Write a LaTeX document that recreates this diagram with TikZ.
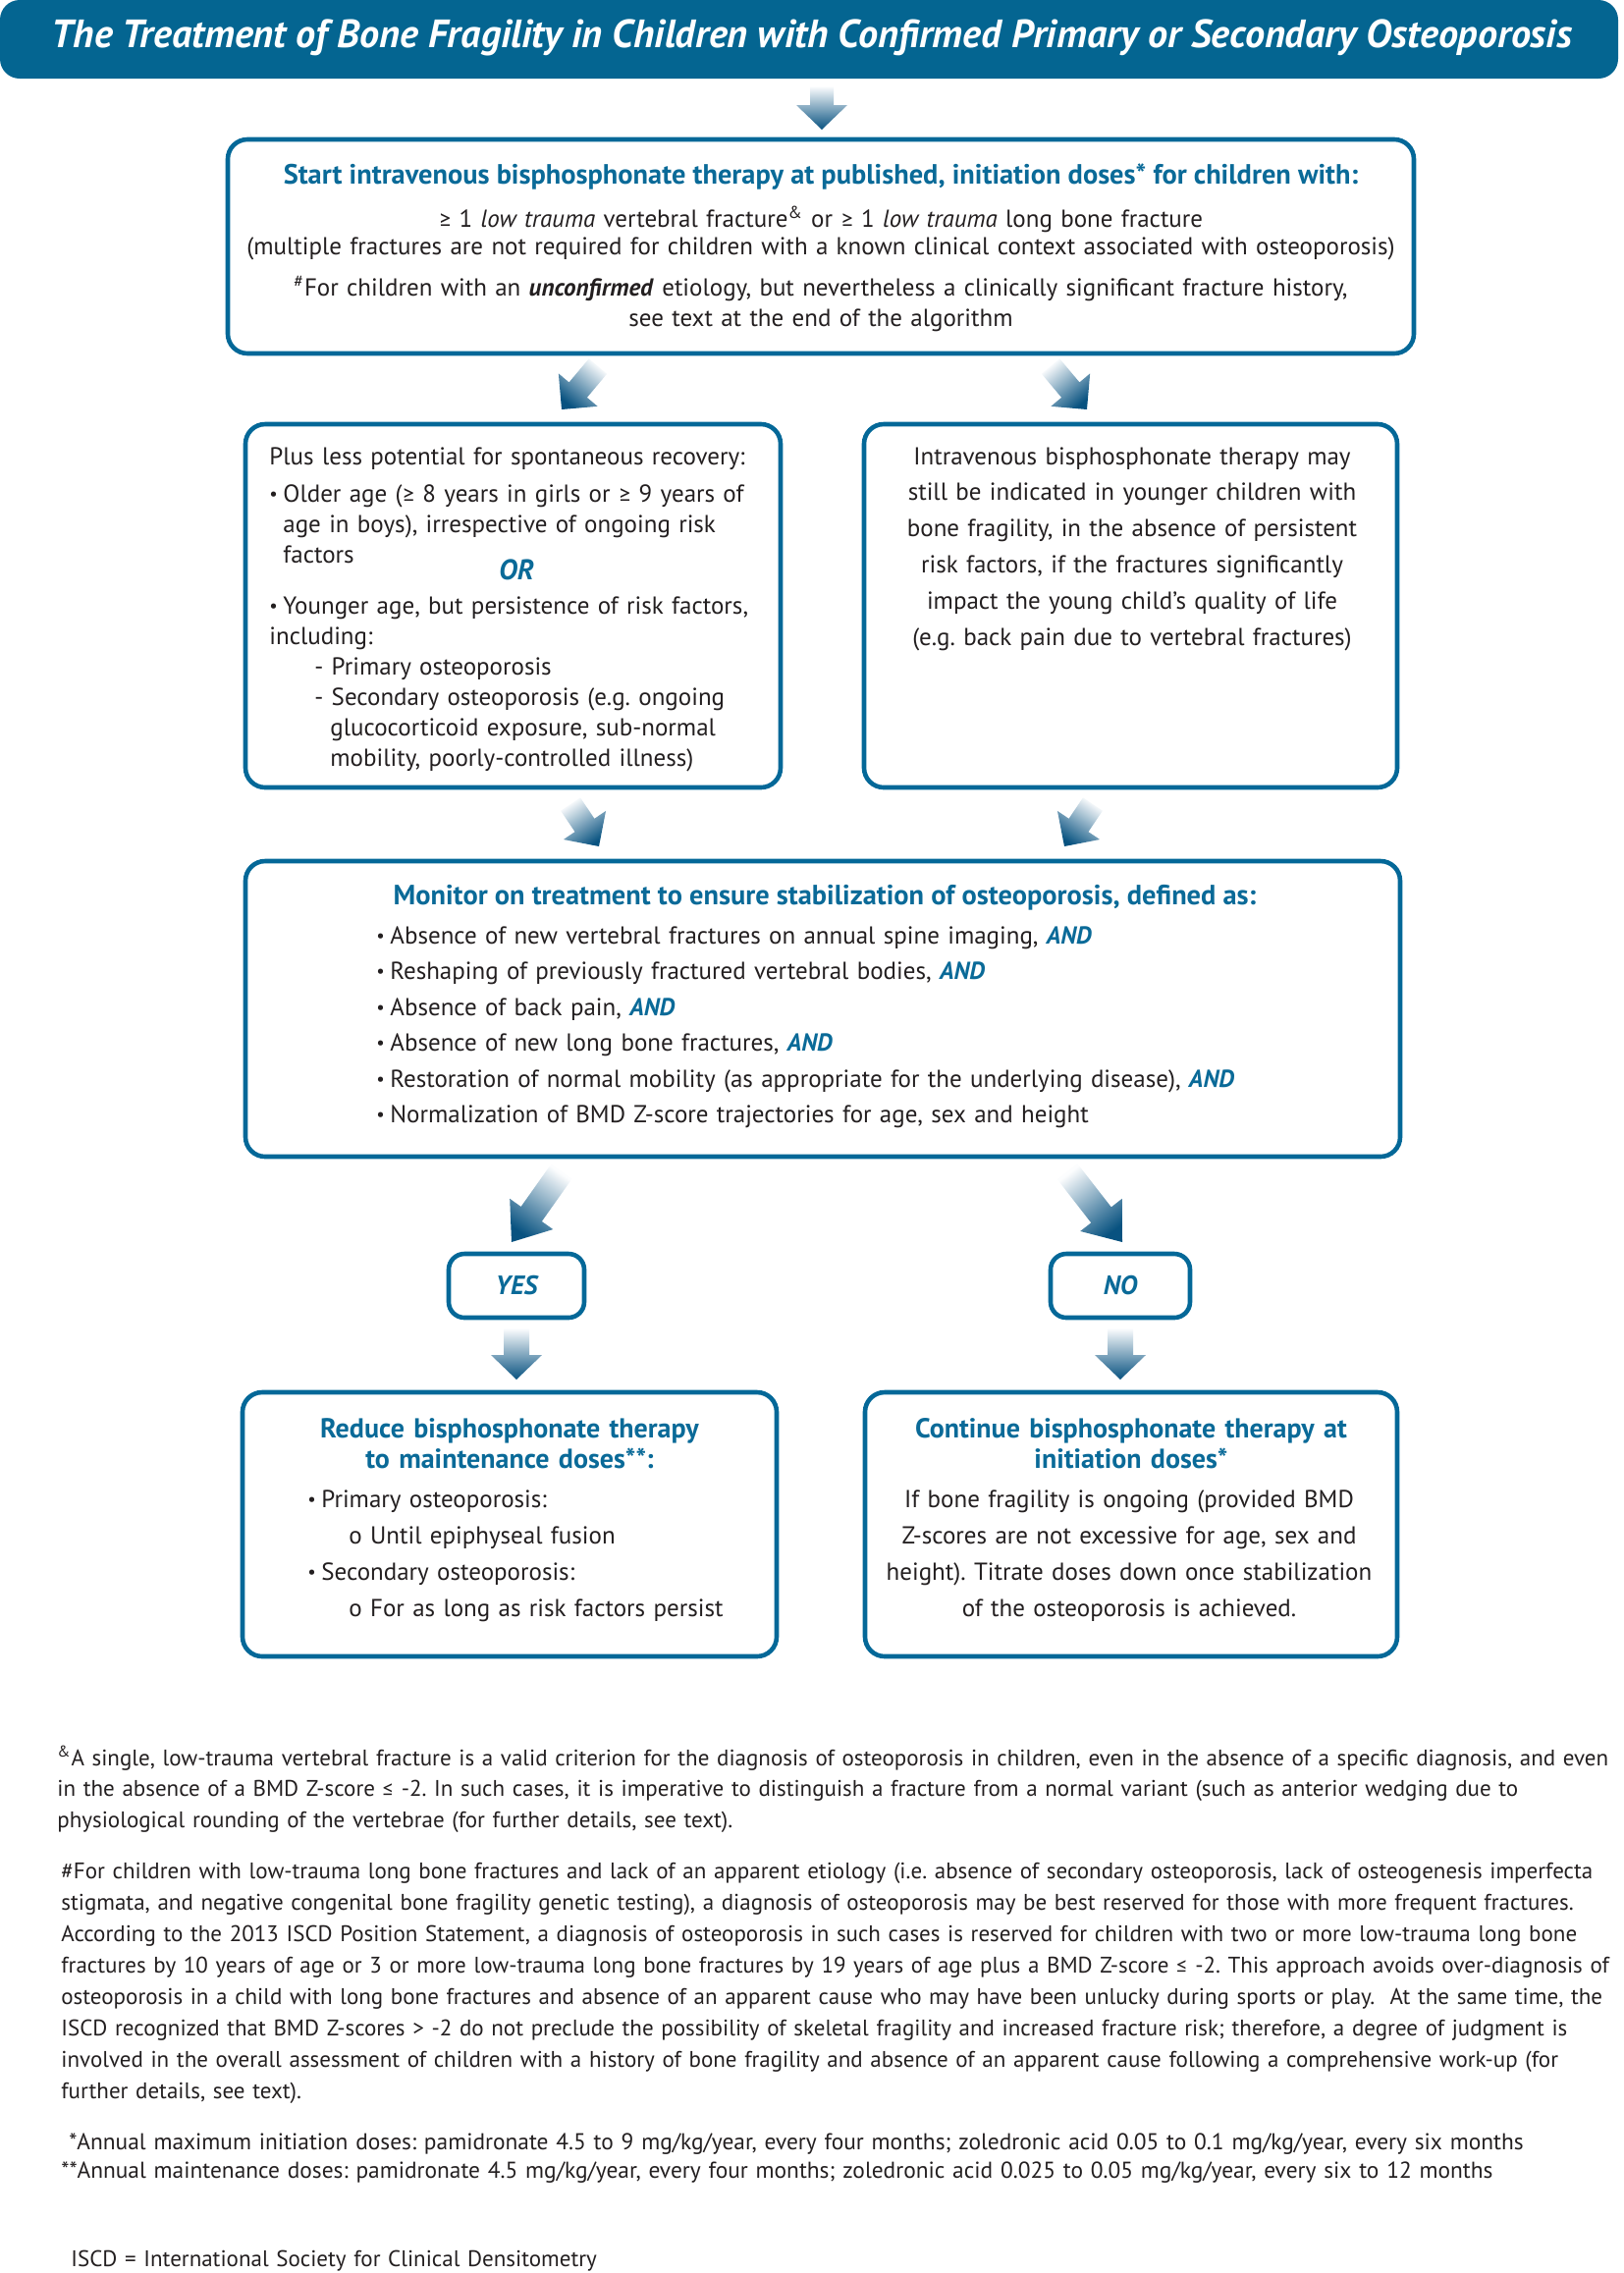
\documentclass[tikz,border=0pt]{standalone}
\usepackage{fontspec}
\usepackage{graphicx}
\setmainfont{PT Sans}
\newfontfamily\symf{Carlito}
\usetikzlibrary{calc}
\frenchspacing
\definecolor{barblue}{RGB}{4,101,145}
\definecolor{boxblue}{RGB}{4,104,152}
\definecolor{headblue}{RGB}{10,106,152}
\definecolor{arrdark}{RGB}{8,82,128}
\definecolor{arrlight}{RGB}{252,253,254}
\definecolor{txt}{RGB}{35,31,32}
\newcommand\GE{{\symf ≥}}
\newcommand\LE{{\symf ≤}}
\newcommand\AND{\textbf{\textit{\color{headblue}AND}}}
\newcommand\smbul{\raisebox{0.9pt}{\scalebox{0.75}{•}}}
\newcommand\bul{\makebox[7pt][l]{\smbul}}
\newcommand\fatarrow[6]{%
  \coordinate (hb) at ($(#2)!#5!(#1)$);
  \shade[top color=arrlight, bottom color=arrdark, shading angle=#6]
    ($(#1)!#3!90:(#2)$) -- ($(hb)!#3!90:(#2)$) -- ($(hb)!#4!90:(#2)$) -- (#2)
    -- ($(hb)!#4!-90:(#2)$) -- ($(hb)!#3!-90:(#2)$) -- ($(#1)!#3!-90:(#2)$) -- cycle;
}
\tikzset{
  pbox/.style={draw=boxblue, line width=2.3pt, rounded corners=10pt, fill=white, inner sep=0pt},
  ynbox/.style={draw=boxblue, line width=2.3pt, rounded corners=8pt, fill=white, inner sep=0pt,
    minimum height=32.5pt, font=\fontsize{13.5}{15}\selectfont\bfseries\itshape, text=headblue},
  tx/.style={inner sep=0pt, text=txt, font=\fontsize{12.5}{#1}\selectfont},
  tx/.default=15.5pt,
  hd/.style={inner sep=0pt, text=headblue, font=\fontsize{14}{#1}\selectfont\bfseries},
  hd/.default=16pt,
  fn/.style={inner sep=0pt, text=txt, font=\fontsize{11.5}{#1}\selectfont, text width=1000pt, align=left, anchor=base west},
  fn/.default=16pt
}
\begin{document}
\begin{tikzpicture}[x=0.5pt,y=-0.5pt]
\useasboundingbox (0,0) rectangle (1654,2315);
% title bar
\node[fill=barblue, rounded corners=10pt, minimum width=824pt, minimum height=40pt, inner sep=0pt] (bar) at (824,40) {};
\node[anchor=base, inner sep=0pt, text=white, font=\fontsize{20.1}{21}\selectfont\bfseries\itshape] (title) at (827,48) {The Treatment of Bone Fragility in Children with Confirmed Primary or Secondary Osteoporosis};
% boxes
\node[pbox, minimum width=604pt, minimum height=109pt] (b1) at (836,251) {};
\node[pbox, minimum width=272.5pt, minimum height=185pt] (b2l) at (522.5,617) {};
\node[pbox, minimum width=271.5pt, minimum height=185pt] (b2r) at (1151.5,617) {};
\node[pbox, minimum width=588pt, minimum height=150.5pt] (b3) at (838,1027.5) {};
\node[ynbox, minimum width=69pt] (yes) at (526,1309.5) {YES};
\node[ynbox, minimum width=71pt] (no) at (1141,1309.5) {NO};
\node[pbox, minimum width=272pt, minimum height=134.5pt] (b4l) at (519,1552.5) {};
\node[pbox, minimum width=271pt, minimum height=134.5pt] (b4r) at (1152,1552.5) {};
% box 1 text
\node[hd, anchor=base, font=\fontsize{14.2}{16}\selectfont\bfseries] (b1h) at (836,187) {Start intravenous bisphosphonate therapy at published, initiation doses* for children with:};
\node[tx=14pt, anchor=base, text width=760pt, align=center] (b1a) at (836,231) {\GE{} 1 \textit{low trauma} vertebral fracture\textsuperscript{\&} or \GE{} 1 \textit{low trauma} long bone fracture\\(multiple fractures are not required for children with a known clinical context associated with osteoporosis)};
\node[tx=15.5pt, anchor=base, text width=760pt, align=center] (b1b) at (836,301) {\textsuperscript{\#}For children with an \textbf{\textit{unconfirmed}} etiology, but nevertheless a clinically significant fracture history,\\see text at the end of the algorithm};
% box 2 left
\node[tx=15.5pt, anchor=base west, text width=320pt, align=left] (b2a) at (274,473) {Plus less potential for spontaneous recovery:\\[3.5pt]\bul Older age (\GE{} 8 years in girls or \GE{} 9 years of\\\hspace*{7pt}age in boys), irrespective of ongoing risk\\\hspace*{7pt}factors};
\node[anchor=base, inner sep=0pt, text=headblue, font=\fontsize{14.5}{15}\selectfont\bfseries\itshape] (or) at (526,590) {OR};
\node[tx=15.5pt, anchor=base west, text width=320pt, align=left] (b2c) at (274,625) {\bul Younger age, but persistence of risk factors,\\including:\\\hspace*{23pt}- Primary osteoporosis\\\hspace*{23pt}- Secondary osteoporosis (e.g. ongoing\\\hspace*{31pt}glucocorticoid exposure, sub-normal\\\hspace*{31pt}mobility, poorly-controlled illness)};
% box 2 right
\node[tx=18.4pt, anchor=base, text width=340pt, align=center] (b2rt) at (1153,473) {Intravenous bisphosphonate therapy may\\still be indicated in younger children with\\bone fragility, in the absence of persistent\\risk factors, if the fractures significantly\\impact the young child’s quality of life\\(e.g. back pain due to vertebral fractures)};
% box 3
\node[hd, anchor=base, font=\fontsize{14.2}{16}\selectfont\bfseries] (b3h) at (840,921) {Monitor on treatment to ensure stabilization of osteoporosis, defined as:};
\node[tx=18.25pt, anchor=base west, text width=600pt, align=left] (b3l) at (383,961) {\bul Absence of new vertebral fractures on annual spine imaging, \AND\\\bul Reshaping of previously fractured vertebral bodies, \AND\\\bul Absence of back pain, \AND\\\bul Absence of new long bone fractures, \AND\\\bul Restoration of normal mobility (as appropriate for the underlying disease), \AND\\\bul Normalization of BMD Z-score trajectories for age, sex and height};
% box 4 left
\node[hd=15.5pt, anchor=base, text width=340pt, align=center] (b4lh) at (519,1464) {Reduce bisphosphonate therapy\\to maintenance doses**:};
\node[tx=18.5pt, anchor=base west, text width=340pt, align=left] (b4ll) at (313,1535) {\bul Primary osteoporosis:\\\hspace*{21pt}o Until epiphyseal fusion\\\bul Secondary osteoporosis:\\\hspace*{21pt}o For as long as risk factors persist};
% box 4 right
\node[hd=15.5pt, anchor=base, text width=340pt, align=center] (b4rh) at (1152,1464) {Continue bisphosphonate therapy at\\initiation doses*};
\node[tx=18.5pt, anchor=base, text width=340pt, align=center] (b4rt) at (1150,1535) {If bone fragility is ongoing (provided BMD\\Z-scores are not excessive for age, sex and\\height). Titrate doses down once stabilization\\of the osteoporosis is achieved.};
% arrows
\coordinate (a0t) at (837,88);   \coordinate (a0h) at (837,132);
\coordinate (a1lt) at (609,373); \coordinate (a1lh) at (572,417);
\coordinate (a1rt) at (1070,373);\coordinate (a1rh) at (1107,417);
\coordinate (a2lt) at (581,819); \coordinate (a2lh) at (610,862);
\coordinate (a2rt) at (1113,819);\coordinate (a2rh) at (1084,862);
\coordinate (a3lt) at (572,1193);\coordinate (a3lh) at (521,1265);
\coordinate (a3rt) at (1087,1193);\coordinate (a3rh) at (1143,1265);
\coordinate (a4lt) at (526,1353);\coordinate (a4lh) at (526,1405);
\coordinate (a4rt) at (1141,1353);\coordinate (a4rh) at (1141,1405);
\fatarrow{a0t}{a0h}{6pt}{13pt}{12.5pt}{0}
\fatarrow{a1lt}{a1lh}{6pt}{13pt}{13pt}{-40}
\fatarrow{a1rt}{a1rh}{6pt}{13pt}{13pt}{40}
\fatarrow{a2lt}{a2lh}{6pt}{13pt}{13pt}{34}
\fatarrow{a2rt}{a2rh}{6pt}{13pt}{13pt}{-34}
\fatarrow{a3lt}{a3lh}{6.5pt}{13.5pt}{17.5pt}{-35}
\fatarrow{a3rt}{a3rh}{6.5pt}{13.5pt}{17.5pt}{38}
\fatarrow{a4lt}{a4lh}{6.5pt}{13pt}{12.5pt}{0}
\fatarrow{a4rt}{a4rh}{6.5pt}{13pt}{12.5pt}{0}
% footnotes
\node[fn=15.75pt] (fn1) at (58,1798) {\textsuperscript{\&}A single, low-trauma vertebral fracture is a valid criterion for the diagnosis of osteoporosis in children, even in the absence of a specific diagnosis, and even\\in the absence of a BMD Z-score \LE{} -2. In such cases, it is imperative to distinguish a fracture from a normal variant (such as anterior wedging due to\\physiological rounding of the vertebrae (for further details, see text).};
\node[fn=16pt] (fn2) at (62,1913) {\#For children with low-trauma long bone fractures and lack of an apparent etiology (i.e. absence of secondary osteoporosis, lack of osteogenesis imperfecta\\stigmata, and negative congenital bone fragility genetic testing), a diagnosis of osteoporosis may be best reserved for those with more frequent fractures.\\According to the 2013 ISCD Position Statement, a diagnosis of osteoporosis in such cases is reserved for children with two or more low-trauma long bone\\fractures by 10 years of age or 3 or more low-trauma long bone fractures by 19 years of age plus a BMD Z-score \LE{} -2. This approach avoids over-diagnosis of\\osteoporosis in a child with long bone fractures and absence of an apparent cause who may have been unlucky during sports or play.\ \ At the same time, the\\ISCD recognized that BMD Z-scores > -2 do not preclude the possibility of skeletal fragility and increased fracture risk; therefore, a degree of judgment is\\involved in the overall assessment of children with a history of bone fragility and absence of an apparent cause following a comprehensive work-up (for\\further details, see text).};
\node[fn=14.5pt, font=\fontsize{11.7}{14.5}\selectfont] (fn3) at (62,2189) {\hspace*{4pt}*Annual maximum initiation doses: pamidronate 4.5 to 9 mg/kg/year, every four months; zoledronic acid 0.05 to 0.1 mg/kg/year, every six months\\{}**Annual maintenance doses: pamidronate 4.5 mg/kg/year, every four months; zoledronic acid 0.025 to 0.05 mg/kg/year, every six to 12 months};
\node[fn] (fn4) at (72,2308) {ISCD = International Society for Clinical Densitometry};
\end{tikzpicture}
\end{document}
